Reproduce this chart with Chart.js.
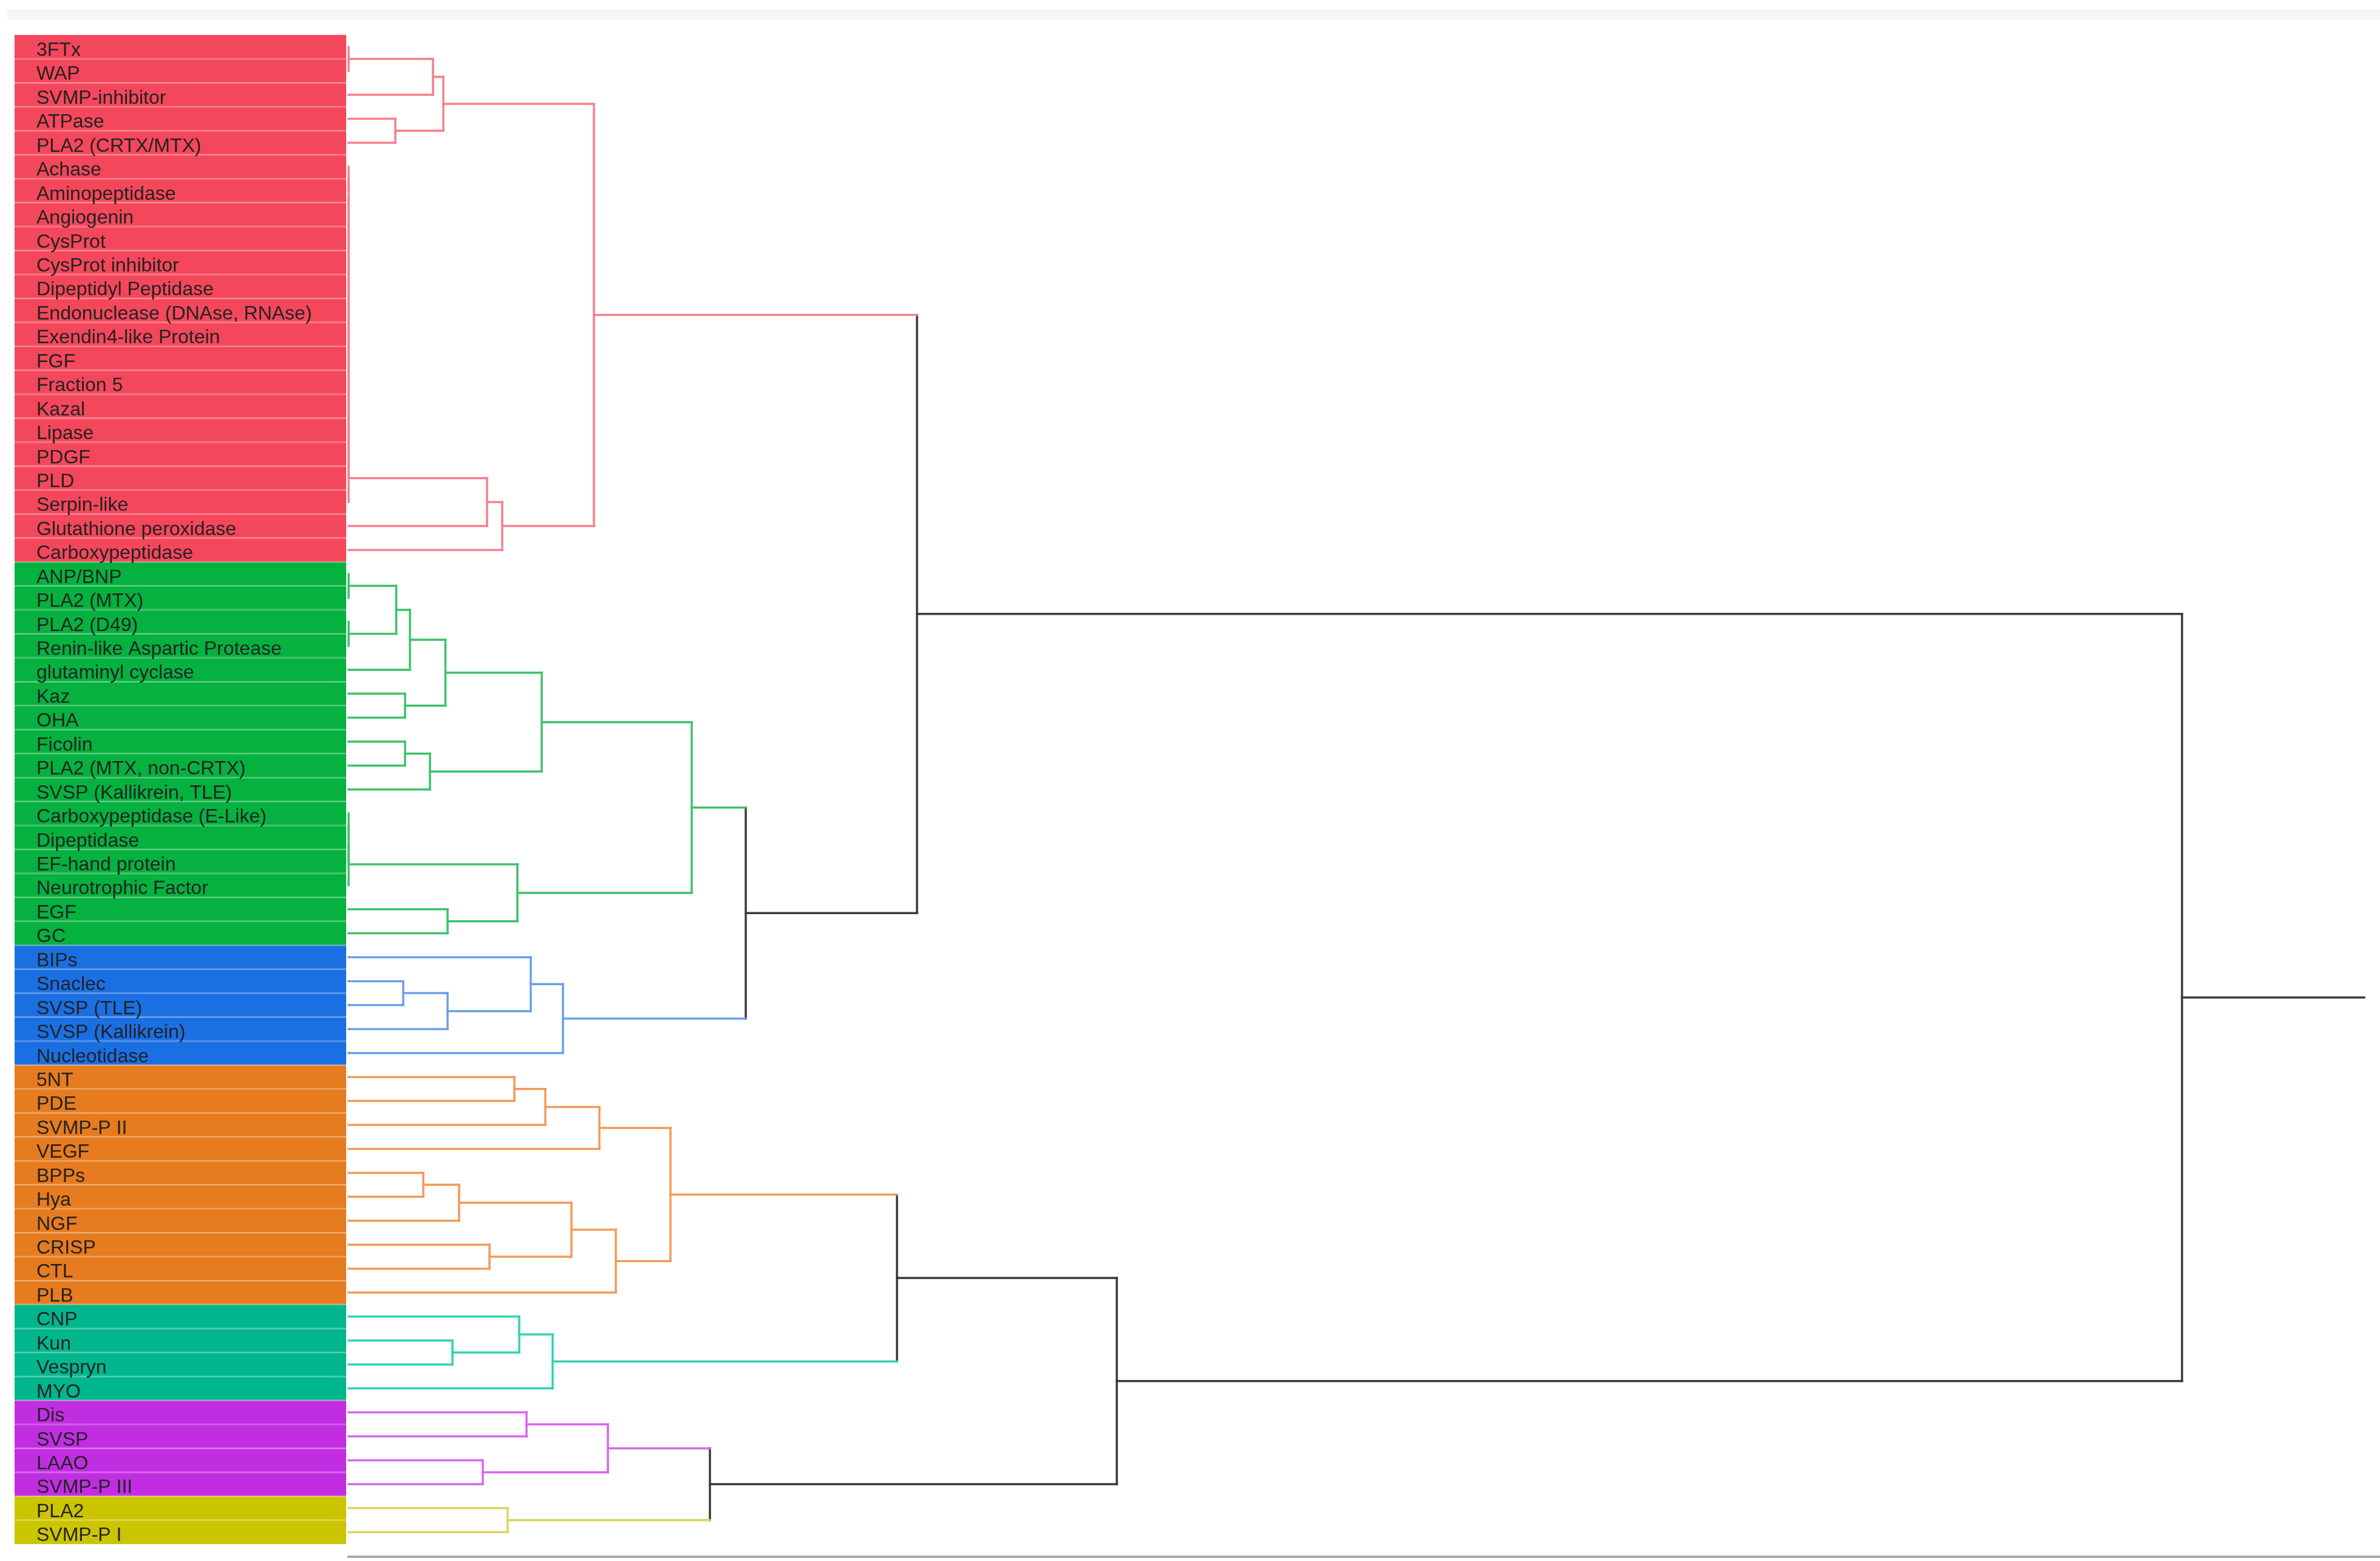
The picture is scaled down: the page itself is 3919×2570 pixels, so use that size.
<!DOCTYPE html>
<html>
<head>
<meta charset="utf-8">
<script src="https://cdn.jsdelivr.net/npm/chart.js@4"></script>
<style>
  html, body { margin: 0; padding: 0; background: #fff; }
  #wrap { width: 3919px; height: 2570px; position: relative; }
</style>
</head>
<body>
<div id="wrap"><canvas id="dendro"></canvas></div>
<script>
// leaves, top to bottom
const leaves = [
  '3FTx', 'WAP', 'SVMP-inhibitor', 'ATPase', 'PLA2 (CRTX/MTX)', 'Achase', 'Aminopeptidase',
  'Angiogenin', 'CysProt', 'CysProt inhibitor', 'Dipeptidyl Peptidase', 'Endonuclease (DNAse, RNAse)',
  'Exendin4-like Protein', 'FGF', 'Fraction 5', 'Kazal', 'Lipase', 'PDGF', 'PLD', 'Serpin-like',
  'Glutathione peroxidase', 'Carboxypeptidase',
  'ANP/BNP', 'PLA2 (MTX)', 'PLA2 (D49)', 'Renin-like Aspartic Protease', 'glutaminyl cyclase', 'Kaz',
  'OHA', 'Ficolin', 'PLA2 (MTX, non-CRTX)', 'SVSP (Kallikrein, TLE)', 'Carboxypeptidase (E-Like)',
  'Dipeptidase', 'EF-hand protein', 'Neurotrophic Factor', 'EGF', 'GC',
  'BIPs', 'Snaclec', 'SVSP (TLE)', 'SVSP (Kallikrein)', 'Nucleotidase',
  '5NT', 'PDE', 'SVMP-P II', 'VEGF', 'BPPs', 'Hya', 'NGF', 'CRISP', 'CTL', 'PLB',
  'CNP', 'Kun', 'Vespryn', 'MYO',
  'Dis', 'SVSP', 'LAAO', 'SVMP-P III',
  'PLA2', 'SVMP-P I'
];

// clusters, in order, with how many leaves each
const clusterNames = ['red', 'green', 'blue', 'orange', 'teal', 'purple', 'yellow'];
const clusterSizes = [22, 16, 5, 10, 4, 4, 2];
const panelColors = ['#f4475b', '#05b13f', '#1a6fe3', '#e67b1f', '#00b68c', '#c12ee2', '#cbc500'];
const linkColors = ['#f5808c', '#3cc268', '#6d9eea', '#f39a56', '#2dd4b4', '#d766ef', '#d9d45e'];
const crossColor = '#3a3a3a';

// linkage: [childA, childB, height]; leaves are 0..62, merge k makes node 63+k
const merges = [
  [0, 1, 0], [63, 2, 1.39], [3, 4, 0.77], [64, 65, 1.56],
  [5, 6, 0], [67, 7, 0], [68, 8, 0], [69, 9, 0], [70, 10, 0], [71, 11, 0], [72, 12, 0],
  [73, 13, 0], [74, 14, 0], [75, 15, 0], [76, 16, 0], [77, 17, 0], [78, 18, 0], [79, 19, 0],
  [80, 20, 2.28], [81, 21, 2.53], [66, 82, 4.04],
  [22, 23, 0], [24, 25, 0], [84, 85, 0.785], [86, 26, 1.01], [27, 28, 0.93], [87, 88, 1.595],
  [29, 30, 0.93], [90, 31, 1.34], [89, 91, 3.18], [32, 33, 0], [93, 34, 0], [94, 35, 0],
  [36, 37, 1.63], [95, 96, 2.78], [92, 97, 5.65],
  [39, 40, 0.90], [99, 41, 1.63], [38, 100, 3.00], [101, 42, 3.53],
  [98, 102, 6.54], [83, 103, 9.36],
  [43, 44, 2.73], [105, 45, 3.24], [106, 46, 4.13], [47, 48, 1.23], [108, 49, 1.82],
  [50, 51, 2.32], [109, 110, 3.67], [111, 52, 4.40], [107, 112, 5.30],
  [54, 55, 1.71], [53, 114, 2.81], [115, 56, 3.36], [113, 116, 9.03],
  [57, 58, 2.93], [59, 60, 2.21], [118, 119, 4.27],
  [61, 62, 2.62], [120, 121, 5.95], [117, 122, 12.65],
  [104, 123, 30.19]
];
const rootStubEnd = 33.19;

// cluster index per leaf
const leafCluster = [];
clusterSizes.forEach((c, k) => { for (let i = 0; i < c; i++) leafCluster.push(k); });

// node positions / heights / cluster
const pos = leaves.map((_, i) => i);
const hgt = leaves.map(() => 0);
const grp = leafCluster.slice();
merges.forEach(([a, b, h]) => {
  pos.push((pos[a] + pos[b]) / 2);
  hgt.push(h);
  grp.push(grp[a] === grp[b] ? grp[a] : -1);
});
const colorOf = id => grp[id] >= 0 ? linkColors[grp[id]] : crossColor;

const datasets = [];
function seg(x0, y0, x1, y1, color) {
  datasets.push({
    data: [{x: x0, y: y0}, {x: x1, y: y1}],
    borderColor: color, borderWidth: 3.5, showLine: true, pointRadius: 0,
    borderCapStyle: 'square', clip: false
  });
}
merges.forEach(([a, b, h], k) => {
  const id = leaves.length + k;
  [a, b].forEach(c => { if (hgt[c] < h) seg(hgt[c], pos[c], h, pos[c], colorOf(c)); });
  seg(h, pos[a], h, pos[b], colorOf(id));
});
const rootId = leaves.length + merges.length - 1;
seg(hgt[rootId], pos[rootId], rootStubEnd, pos[rootId], crossColor);

const rowPitch = 39.44, panelTop = 57.5, leafX = 574, axisY = 2563, W = 3919;

const panelPlugin = {
  id: 'panel',
  beforeDraw(chart) {
    const {ctx, scales: {y}} = chart;
    ctx.save();
    ctx.fillStyle = '#f6f6f6';
    ctx.fillRect(12, 15, W - 12, 18);
    leaves.forEach((_, i) => {
      const y0 = y.getPixelForValue(i - 0.5), y1 = y.getPixelForValue(i + 0.5);
      ctx.fillStyle = panelColors[leafCluster[i]];
      ctx.fillRect(24, y0, 546, y1 - y0);
    });
    ctx.strokeStyle = 'rgba(255,255,255,0.25)';
    ctx.lineWidth = 3;
    for (let i = 1; i < leaves.length; i++) {
      const yy = y.getPixelForValue(i - 0.5);
      ctx.beginPath(); ctx.moveTo(24, yy); ctx.lineTo(570, yy); ctx.stroke();
    }
    ctx.restore();
  }
};

new Chart(document.getElementById('dendro'), {
  type: 'scatter',
  data: { datasets },
  plugins: [panelPlugin],
  options: {
    responsive: true,
    maintainAspectRatio: false,
    animation: false,
    layout: { padding: { top: panelTop, left: 60, right: 0, bottom: 0 } },
    plugins: { legend: { display: false }, tooltip: { enabled: false } },
    scales: {
      x: {
        type: 'linear', min: 0, max: (W - leafX) / 100,
        grid: { display: false },
        border: { display: true, color: '#aaaaaa', width: 4 },
        ticks: { display: false },
        afterFit(s) { s.height = 2570 - axisY; s.paddingLeft = 0; s.paddingRight = 0; }
      },
      y: {
        type: 'linear', reverse: true,
        min: -0.5, max: -0.5 + (axisY - panelTop) / rowPitch,
        grid: { display: false },
        border: { display: false },
        afterBuildTicks(s) { s.ticks = leaves.map((_, i) => ({ value: i })); },
        ticks: {
          callback: v => leaves[v],
          crossAlign: 'far', padding: 0, labelOffset: 6, autoSkip: false,
          color: '#222', font: { family: 'Liberation Sans', size: 32 }
        },
        afterFit(s) { s.width = leafX - 60; s.paddingTop = 0; s.paddingBottom = 0; }
      }
    }
  }
});
</script>
</body>
</html>
